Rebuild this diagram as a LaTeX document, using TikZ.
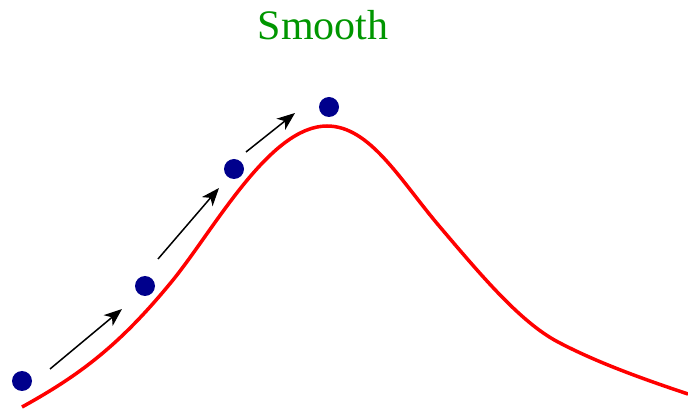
\documentclass[tikz,border=0pt]{standalone}
\usepackage{xcolor}
\usepackage{fontspec}
\setmainfont{Liberation Serif}
\usepackage{tikz}
\usetikzlibrary{arrows.meta,positioning}
\definecolor{dotblue}{RGB}{0,0,140}
\definecolor{titlegreen}{RGB}{0,150,0}

\begin{document}
\begin{tikzpicture}[x=1pt, y=-1pt,
    dot/.style={circle, fill=dotblue, inner sep=0pt, minimum size=20pt},
    curve/.style={red, line width=3.5pt},
    arrow/.style={line width=1.5pt, -{Stealth[length=18pt, width=14pt, inset=5pt]}}]

\useasboundingbox (0,0) rectangle (688,411);

\node[text=titlegreen, font=\fontsize{42}{50}\selectfont, anchor=base] (title) at (323,40) {Smooth};

% the red curve
\draw[curve] (22,407) .. controls (80,375) and (120,345) .. (173,280)
    .. controls (215,228) and (270,126) .. (327,126)
    .. controls (370,126) and (400,180) .. (440,227)
    .. controls (480,274) and (520,322) .. (558,342)
    .. controls (596,362) and (640,378) .. (688,394);

\node[dot] (d1) at (22,381) {};
\node[dot] (d2) at (145,286) {};
\node[dot] (d3) at (234,169) {};
\node[dot] (d4) at (329,107) {};

\draw[arrow] ([shift={(28,-12)}]d1.center) -- ([shift={(-23,23)}]d2.center);
\draw[arrow] ([shift={(13,-27)}]d2.center) -- ([shift={(-15,19)}]d3.center);
\draw[arrow] ([shift={(12,-17)}]d3.center) -- ([shift={(-34,6)}]d4.center);

\end{tikzpicture}
\end{document}
